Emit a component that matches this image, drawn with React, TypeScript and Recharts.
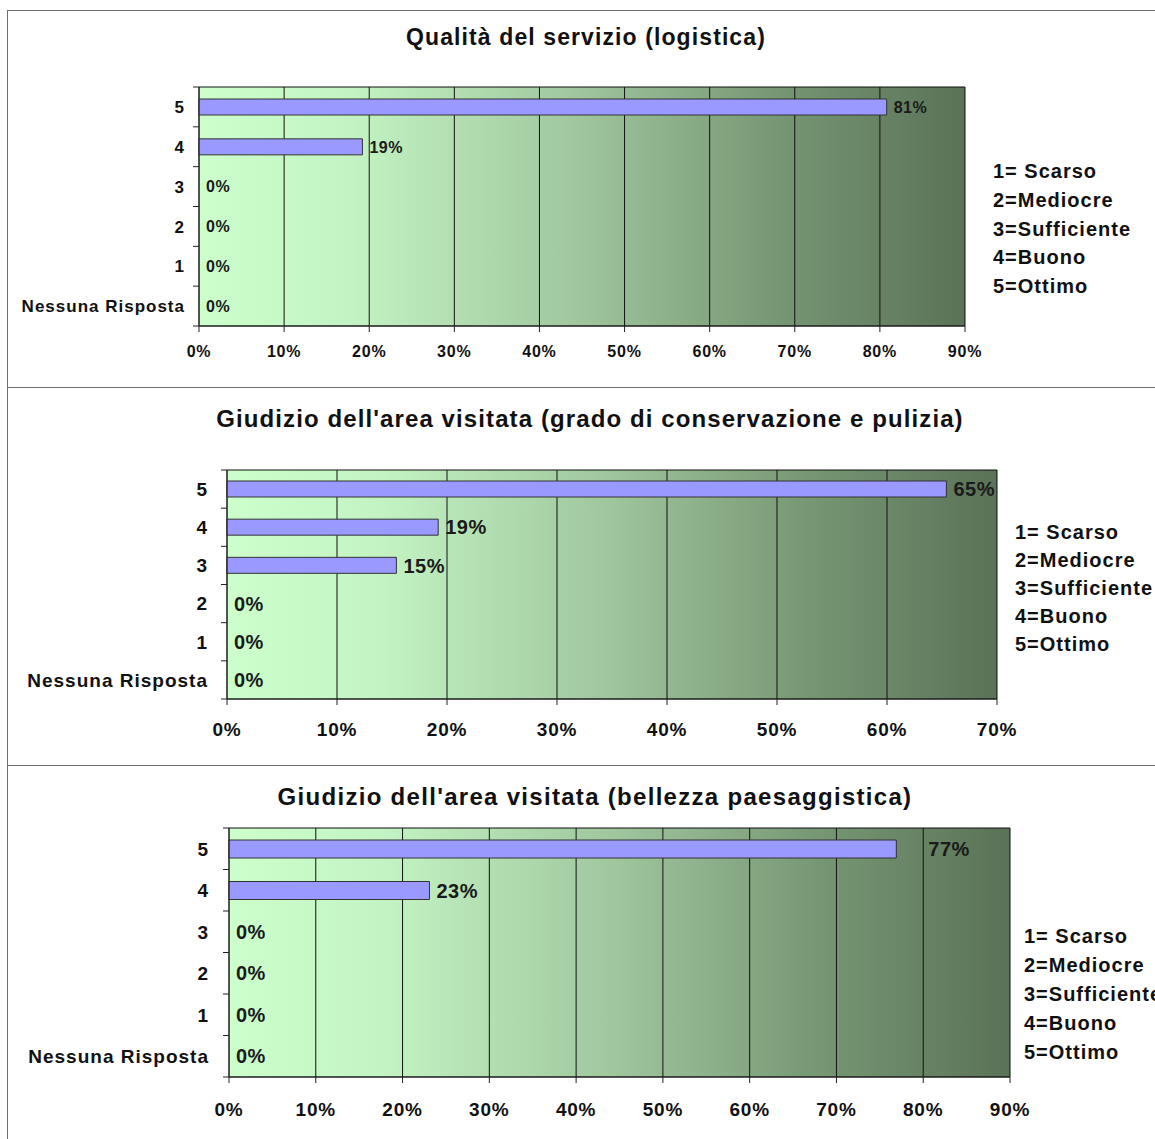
import React from 'react';
import { BarChart, Bar, XAxis, YAxis, CartesianGrid, LabelList } from 'recharts';

// categories, top to bottom
const categories = ['5', '4', '3', '2', '1', 'Nessuna Risposta'];

// percentages
const logisticaValues = [80.8, 19.2, 0, 0, 0, 0];
const conservazioneValues = [65.4, 19.2, 15.4, 0, 0, 0];
const bellezzaValues = [76.9, 23.1, 0, 0, 0, 0];

const ticks90 = [0, 10, 20, 30, 40, 50, 60, 70, 80, 90];
const ticks70 = [0, 10, 20, 30, 40, 50, 60, 70];

const legendLines = ['1= Scarso', '2=Mediocre', '3=Sufficiente', '4=Buono', '5=Ottimo'];

const titles = [
  'Qualità del servizio (logistica)',
  "Giudizio dell'area visitata (grado di conservazione e pulizia)",
  "Giudizio dell'area visitata (bellezza paesaggistica)",
];

const FONT = 'Arial, "Liberation Sans", sans-serif';
const W = 1155;
const XAXIS_H = 40;

type PanelProps = {
  id: string;
  top: number;
  height: number;
  title: string;
  titleX: number;
  titleY: number;
  titleSize: number;
  titleSpacing: number;
  values: number[];
  ticks: number[];
  plot: { l: number; r: number; t: number; b: number };
  catSize: number;
  catGap: number;
  xSize: number;
  xMargin: number;
  labelSize: number;
  barSize: number;
  legendX: number;
  legendY: number;
  legendGap: number;
  labelShift?: Record<number, number>;
};

const Panel = (p: PanelProps) => {
  const data = categories.map((name, i) => ({ name, v: p.values[i] }));
  const max = p.ticks[p.ticks.length - 1];
  const mTop = p.plot.t - p.top;
  const mBottom = p.height - (p.plot.b - p.top) - XAXIS_H;
  const band = (p.plot.b - p.plot.t) / categories.length;
  const gid = `bg-${p.id}`;

  const pctText = (x: number, y: number, v: number) => (
    <text
      x={x}
      y={y}
      dy="0.36em"
      fontFamily={FONT}
      fontWeight="bold"
      fontSize={p.labelSize}
      letterSpacing={0.5}
      fill="#1a1a1a"
    >
      {`${Math.round(v)}%`}
    </text>
  );

  const CatTick = (tp: any) => {
    const { x, y, payload, index } = tp;
    const v = data[index] ? data[index].v : null;
    return (
      <g>
        <line x1={x - 6} x2={x} y1={y - band / 2} y2={y - band / 2} stroke="#222" />
        {index === categories.length - 1 && (
          <line x1={x - 6} x2={x} y1={y + band / 2} y2={y + band / 2} stroke="#222" />
        )}
        <text
          x={x - p.catGap}
          y={y}
          dy="0.36em"
          textAnchor="end"
          fontFamily={FONT}
          fontWeight="bold"
          fontSize={p.catSize}
          letterSpacing={1}
          fill="#111"
        >
          {payload.value}
        </text>
        {/* zero-length bars get no LabelList entry, so their 0% is drawn here */}
        {v === 0 && pctText(x + 7, y, 0)}
      </g>
    );
  };

  const PctTick = (tp: any) => {
    const { x, y, payload } = tp;
    return (
      <text
        x={x}
        y={y}
        dy="0.71em"
        textAnchor="middle"
        fontFamily={FONT}
        fontWeight="bold"
        fontSize={p.xSize}
        letterSpacing={0.8}
        fill="#111"
      >
        {`${payload.value}%`}
      </text>
    );
  };

  const renderLabel = (lp: any) => {
    const x = lp.x ?? lp.viewBox?.x ?? 0;
    const y = lp.y ?? lp.viewBox?.y ?? 0;
    const w = lp.width ?? lp.viewBox?.width ?? 0;
    const h = lp.height ?? lp.viewBox?.height ?? 0;
    if (!w) return null;
    const shift = (p.labelShift && p.labelShift[lp.index]) || 0;
    return pctText(x + w + 7 + shift, y + h / 2, Number(lp.value));
  };

  return (
    <>
      <div
        style={{
          position: 'absolute',
          left: p.titleX,
          top: p.titleY,
          transform: 'translate(-50%, -50%)',
          whiteSpace: 'nowrap',
          fontFamily: FONT,
          fontWeight: 'bold',
          fontSize: p.titleSize,
          letterSpacing: p.titleSpacing,
          color: '#111',
        }}
      >
        {p.title}
      </div>
      <div style={{ position: 'absolute', left: 0, top: p.top }}>
        <BarChart
          width={W}
          height={p.height}
          data={data}
          layout="vertical"
          margin={{ top: mTop, right: W - p.plot.r, left: 0, bottom: mBottom }}
          barCategoryGap={0}
        >
          <defs>
            <linearGradient id={gid} x1="0" y1="0" x2="1" y2="0">
              <stop offset="0%" stopColor="#ccffcc" />
              <stop offset="20%" stopColor="#c3f3c3" />
              <stop offset="50%" stopColor="#9fc59d" />
              <stop offset="75%" stopColor="#779874" />
              <stop offset="100%" stopColor="#5a7257" />
            </linearGradient>
          </defs>
          <CartesianGrid
            stroke="#111"
            fill={`url(#${gid})`}
            fillOpacity={1}
            horizontal={true}
            horizontalPoints={[mTop, p.plot.b - p.top]}
          />
          <XAxis
            type="number"
            domain={[0, max]}
            ticks={p.ticks}
            interval={0}
            height={XAXIS_H}
            tickSize={6}
            tickMargin={p.xMargin}
            axisLine={{ stroke: '#222' }}
            tickLine={{ stroke: '#222' }}
            tick={PctTick}
          />
          <YAxis
            type="category"
            dataKey="name"
            width={p.plot.l}
            tickSize={0}
            tickMargin={0}
            tickLine={false}
            axisLine={{ stroke: '#222' }}
            tick={CatTick}
            interval={0}
          />
          <Bar
            dataKey="v"
            fill="#9999ff"
            stroke="#333"
            strokeWidth={1}
            barSize={p.barSize}
            isAnimationActive={false}
          >
            <LabelList dataKey="v" content={renderLabel} />
          </Bar>
        </BarChart>
      </div>
      {legendLines.map((t, i) => (
        <div
          key={t}
          style={{
            position: 'absolute',
            left: p.legendX,
            top: p.legendY + i * p.legendGap,
            transform: 'translateY(-50%)',
            whiteSpace: 'pre',
            fontFamily: FONT,
            fontWeight: 'bold',
            fontSize: 20,
            letterSpacing: 1,
            color: '#111',
            lineHeight: 1,
          }}
        >
          {t}
        </div>
      ))}
    </>
  );
};

export default function App() {
  const line = '#6f6f6f';
  return (
    <div
      style={{
        position: 'absolute',
        left: 0,
        top: 0,
        width: W,
        height: 1139,
        overflow: 'hidden',
        background: '#fff',
      }}
    >
      <div style={{ position: 'absolute', left: 7, top: 10, width: W, height: 1, background: line }} />
      <div style={{ position: 'absolute', left: 7, top: 387, width: W, height: 1, background: line }} />
      <div style={{ position: 'absolute', left: 7, top: 765, width: W, height: 1, background: line }} />
      <div style={{ position: 'absolute', left: 7, top: 10, width: 1, height: 1139, background: line }} />

      <Panel
        id="a"
        top={0}
        height={388}
        title={titles[0]}
        titleX={586}
        titleY={37}
        titleSize={23}
        titleSpacing={1.1}
        values={logisticaValues}
        ticks={ticks90}
        plot={{ l: 199, r: 965, t: 87, b: 326 }}
        catSize={17}
        catGap={14}
        xSize={16}
        xMargin={14}
        labelSize={16}
        barSize={16}
        legendX={993}
        legendY={171}
        legendGap={28.75}
      />
      <Panel
        id="b"
        top={388}
        height={378}
        title={titles[1]}
        titleX={590}
        titleY={419}
        titleSize={24}
        titleSpacing={1.1}
        values={conservazioneValues}
        ticks={ticks70}
        plot={{ l: 227, r: 997, t: 470, b: 699 }}
        catSize={19}
        catGap={19}
        xSize={19}
        xMargin={18}
        labelSize={20}
        barSize={16}
        legendX={1015}
        legendY={532}
        legendGap={28}
      />
      <Panel
        id="c"
        top={766}
        height={373}
        title={titles[2]}
        titleX={595}
        titleY={797}
        titleSize={24}
        titleSpacing={1.3}
        values={bellezzaValues}
        ticks={ticks90}
        plot={{ l: 229, r: 1010, t: 828, b: 1077 }}
        catSize={19}
        catGap={20}
        xSize={19}
        xMargin={20}
        labelSize={20}
        barSize={18}
        legendX={1024}
        legendY={936}
        legendGap={29}
        labelShift={{ 0: 25 }}
      />
    </div>
  );
}
